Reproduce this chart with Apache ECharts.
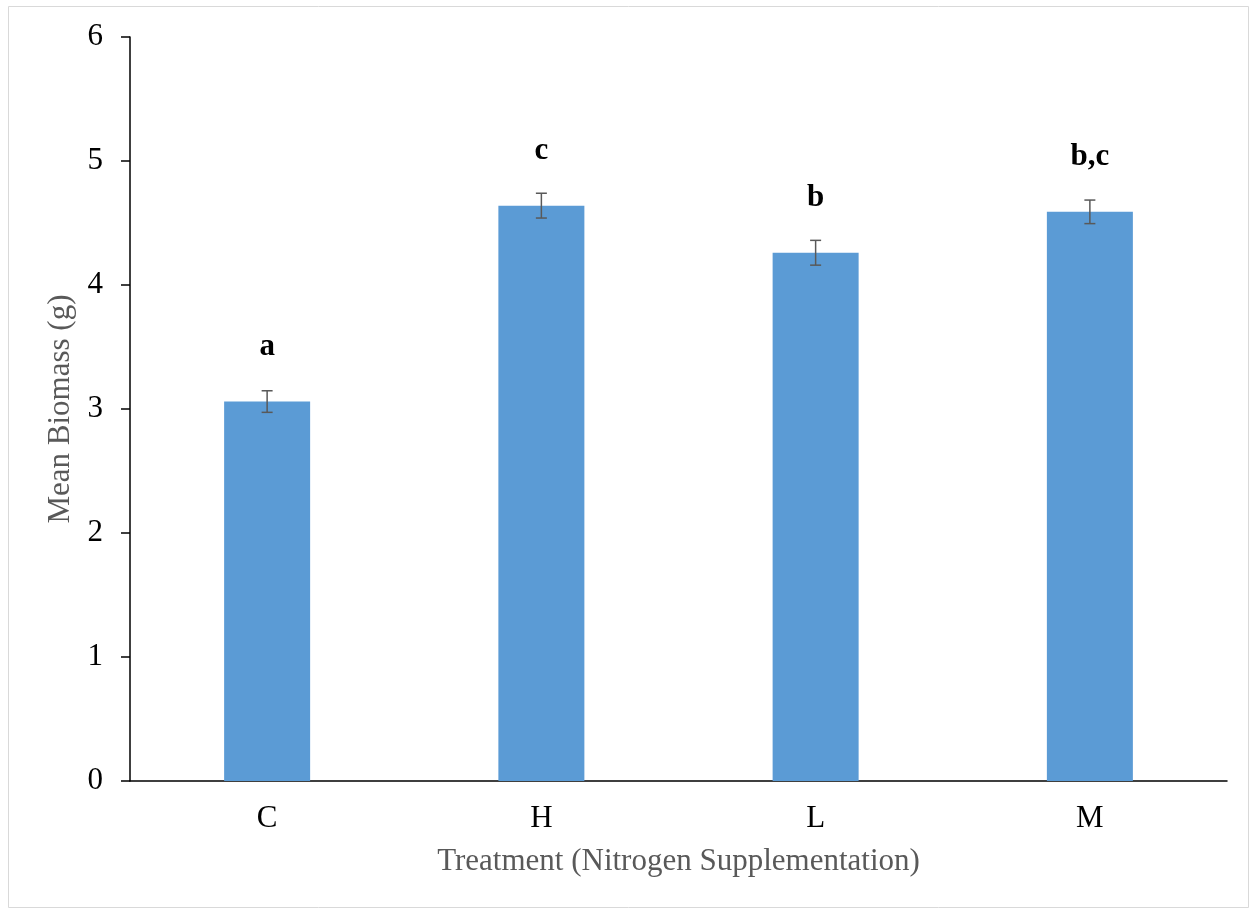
<!DOCTYPE html>
<html>
<head>
<meta charset="utf-8">
<script src="https://cdn.jsdelivr.net/npm/echarts@6/dist/echarts.min.js"></script>
<style>
  html, body { margin: 0; padding: 0; background: #fff; }
  #main { width: 1255px; height: 913px; }
</style>
</head>
<body>
<div id="main"></div>
<script>
'use strict';

// treatments and measured biomass
var categories = ['C', 'H', 'L', 'M'];
var meanBiomass = [3.06, 4.64, 4.26, 4.59];
var errors = [0.087, 0.10, 0.10, 0.095];
var groupLetters = ['a', 'c', 'b', 'b,c'];
var yTicks = [0, 1, 2, 3, 4, 5, 6];

var serif = '"Liberation Serif", "Times New Roman", serif';

var myChart = echarts.init(document.getElementById('main'));

var option = {
    animation: false,
    backgroundColor: '#fff',
    textStyle: { fontFamily: serif },
    graphic: [{
        type: 'rect',
        shape: { x: 8.5, y: 6.5, width: 1240, height: 901 },
        style: { fill: 'none', stroke: '#d9d9d9', lineWidth: 1 },
        silent: true
    }],
    grid: { left: 130, right: 28, top: 37, bottom: 132 },
    xAxis: {
        type: 'category',
        data: categories,
        name: 'Treatment (Nitrogen Supplementation)',
        nameLocation: 'middle',
        nameGap: 65,
        nameTextStyle: { color: '#595959', fontSize: 31, fontFamily: serif },
        axisLine: { lineStyle: { color: '#000', width: 1.5 } },
        axisTick: { show: false },
        axisLabel: { color: '#000', fontSize: 31, fontFamily: serif, margin: 22 },
        splitLine: { show: false }
    },
    yAxis: {
        type: 'value',
        min: yTicks[0],
        max: yTicks[yTicks.length - 1],
        interval: 1,
        name: 'Mean Biomass (g)',
        nameLocation: 'middle',
        nameGap: 52,
        nameRotate: 90,
        nameTextStyle: { color: '#595959', fontSize: 31, fontFamily: serif },
        axisLine: { show: true, lineStyle: { color: '#000', width: 1.5 } },
        axisTick: { show: true, length: 9, lineStyle: { color: '#000', width: 1.5 } },
        axisLabel: { color: '#000', fontSize: 31, fontFamily: serif, margin: 27 },
        splitLine: { show: false }
    },
    series: [{
        name: 'Mean Biomass',
        type: 'bar',
        data: meanBiomass,
        barWidth: 86,
        itemStyle: { color: '#5b9bd5' }
    }, {
        // error bars + significance letters
        type: 'custom',
        data: meanBiomass.map(function(v, i) { return [i, v, errors[i]]; }),
        z: 10,
        renderItem: function(params, api) {
            var i = api.value(0);
            var v = api.value(1);
            var e = api.value(2);
            var top = api.coord([i, v + e]);
            var bot = api.coord([i, v - e]);
            var mid = api.coord([i, v]);
            var half = 5.5;
            var st = { stroke: '#595959', lineWidth: 1.5 };
            return {
                type: 'group',
                children: [
                    { type: 'line', shape: { x1: top[0], y1: top[1], x2: bot[0], y2: bot[1] }, style: st },
                    { type: 'line', shape: { x1: top[0] - half, y1: top[1], x2: top[0] + half, y2: top[1] }, style: st },
                    { type: 'line', shape: { x1: bot[0] - half, y1: bot[1], x2: bot[0] + half, y2: bot[1] }, style: st },
                    {
                        type: 'text',
                        x: mid[0],
                        y: mid[1] - 55,
                        style: {
                            text: groupLetters[params.dataIndex],
                            fill: '#000',
                            font: 'bold 31px ' + serif,
                            align: 'center',
                            verticalAlign: 'middle'
                        }
                    }
                ]
            };
        }
    }]
};

myChart.setOption(option);
</script>
</body>
</html>
